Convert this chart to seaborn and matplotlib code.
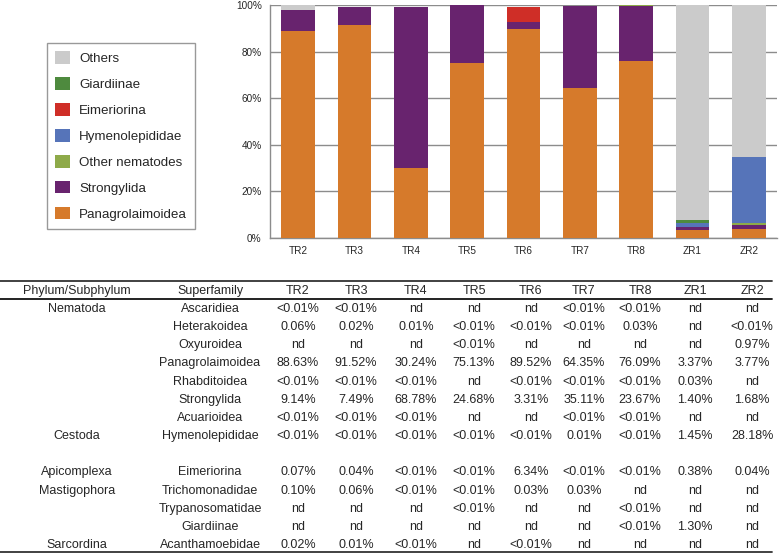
"""
Stacked composition bars for the TR/ZR samples plus the superfamily table beneath.
Writes out.png (783x555).
"""

import matplotlib

matplotlib.use("Agg")
import matplotlib.pyplot as plt
import numpy as np
import pandas as pd
import seaborn as sns
from matplotlib.lines import Line2D
from matplotlib.patches import Patch

SAMPLES = ["TR2", "TR3", "TR4", "TR5", "TR6", "TR7", "TR8", "ZR1", "ZR2"]

# stacked from the bottom up (values in %)
PANAGROLAIMOIDEA = [88.63, 91.52, 30.24, 75.13, 89.52, 64.35, 76.09, 3.37, 3.77]
STRONGYLIDA = [9.14, 7.49, 68.78, 24.68, 3.31, 35.11, 23.67, 1.40, 1.68]
OTHER_NEMATODES = [0.06, 0.02, 0.01, 0.0, 0.0, 0.0, 0.03, 0.03, 0.97]
HYMENOLEPIDIDAE = [0.0, 0.0, 0.0, 0.0, 0.0, 0.01, 0.0, 1.45, 28.18]
EIMERIORINA = [0.07, 0.04, 0.0, 0.0, 6.34, 0.0, 0.0, 0.38, 0.04]
GIARDIINAE = [0.0, 0.0, 0.0, 0.0, 0.0, 0.0, 0.0, 1.30, 0.0]
OTHERS = [1.9, 0.0, 0.0, 0.0, 0.0, 0.0, 0.0, 92.1, 65.4]

SERIES = [
    ("Panagrolaimoidea", PANAGROLAIMOIDEA, "#d67a2b"),
    ("Strongylida", STRONGYLIDA, "#68236e"),
    ("Other nematodes", OTHER_NEMATODES, "#8eaa49"),
    ("Hymenolepididae", HYMENOLEPIDIDAE, "#5674b9"),
    ("Eimeriorina", EIMERIORINA, "#cf2e27"),
    ("Giardiinae", GIARDIINAE, "#4e8a3e"),
    ("Others", OTHERS, "#cbcbcb"),
]

TABLE_HEADER = ["Phylum/Subphylum", "Superfamily"] + SAMPLES
TABLE_ROWS = [
    ["Nematoda", "Ascaridiea", "<0.01%", "<0.01%", "nd", "nd", "nd", "<0.01%", "<0.01%", "nd", "nd"],
    ["", "Heterakoidea", "0.06%", "0.02%", "0.01%", "<0.01%", "<0.01%", "<0.01%", "0.03%", "nd", "<0.01%"],
    ["", "Oxyuroidea", "nd", "nd", "nd", "<0.01%", "nd", "nd", "nd", "nd", "0.97%"],
    ["", "Panagrolaimoidea", "88.63%", "91.52%", "30.24%", "75.13%", "89.52%", "64.35%", "76.09%", "3.37%", "3.77%"],
    ["", "Rhabditoidea", "<0.01%", "<0.01%", "<0.01%", "nd", "<0.01%", "<0.01%", "<0.01%", "0.03%", "nd"],
    ["", "Strongylida", "9.14%", "7.49%", "68.78%", "24.68%", "3.31%", "35.11%", "23.67%", "1.40%", "1.68%"],
    ["", "Acuarioidea", "<0.01%", "<0.01%", "<0.01%", "nd", "nd", "<0.01%", "<0.01%", "nd", "nd"],
    ["Cestoda", "Hymenolepididae", "<0.01%", "<0.01%", "<0.01%", "<0.01%", "<0.01%", "0.01%", "<0.01%", "1.45%", "28.18%"],
    [""] * 11,
    ["Apicomplexa", "Eimeriorina", "0.07%", "0.04%", "<0.01%", "<0.01%", "6.34%", "<0.01%", "<0.01%", "0.38%", "0.04%"],
    ["Mastigophora", "Trichomonadidae", "0.10%", "0.06%", "<0.01%", "<0.01%", "0.03%", "0.03%", "nd", "nd", "nd"],
    ["", "Trypanosomatidae", "nd", "nd", "nd", "<0.01%", "nd", "nd", "<0.01%", "nd", "nd"],
    ["", "Giardiinae", "nd", "nd", "nd", "nd", "nd", "nd", "<0.01%", "1.30%", "nd"],
    ["Sarcordina", "Acanthamoebidae", "0.02%", "0.01%", "<0.01%", "nd", "<0.01%", "nd", "nd", "nd", "nd"],
]

W, H = 783, 555
COL_X = [77, 210, 298, 356, 416, 474, 531, 584, 640, 695, 752]


def draw_bars(fig):
    ax = fig.add_axes([270 / W, 1 - 238 / H, (777 - 270) / W, (238 - 5) / H])
    df = pd.DataFrame({name: vals for name, vals, _ in SERIES}, index=SAMPLES)
    cum = df.cumsum(axis=1)

    # draw the tallest cumulative layer first so lower segments sit on top
    for name, _, color in reversed(SERIES):
        sns.barplot(x=SAMPLES, y=cum[name].values, color=color, width=0.6,
                    saturation=1, errorbar=None, ax=ax, zorder=3,
                    linewidth=0, edgecolor="none")

    ax.set_ylim(0, 100)
    ax.set_xlim(-0.5, len(SAMPLES) - 0.5)
    ax.set_yticks(np.arange(0, 101, 20))
    ax.set_yticklabels([f"{v}%" for v in range(0, 101, 20)])
    ax.yaxis.grid(True, color="#8c8c8c", linewidth=1.0, zorder=0)
    ax.set_axisbelow(True)
    for side in ("top", "right"):
        ax.spines[side].set_visible(False)
    for side in ("left", "bottom"):
        ax.spines[side].set_color("#8c8c8c")
        ax.spines[side].set_linewidth(1.0)

    ax.set_xticks(np.arange(-0.5, len(SAMPLES)), minor=True)
    ax.tick_params(axis="x", which="major", length=0, pad=6, labelsize=7.2)
    ax.tick_params(axis="x", which="minor", length=3, color="#8c8c8c", direction="out")
    ax.tick_params(axis="y", length=3, color="#8c8c8c", pad=3, labelsize=7.2)
    ax.set_xlabel("")
    ax.set_ylabel("")

    handles = [Patch(facecolor=c, edgecolor="none", label=n) for n, _, c in reversed(SERIES)]
    leg = fig.legend(handles=handles, loc="upper left", bbox_to_anchor=(47 / W, 1 - 43 / H),
                     frameon=True, fancybox=False, edgecolor="#808080", fontsize=9.6,
                     handlelength=1.1, handleheight=1.1, labelspacing=0.9,
                     borderpad=0.6, handletextpad=0.7, borderaxespad=0)
    leg.get_frame().set_linewidth(1.0)


def draw_table(fig):
    def fy(px):
        return 1 - px / H

    for y, lw, color in [(281, 1.3, "#333333"), (299, 1.3, "#111111"), (552, 1.3, "#333333")]:
        fig.add_artist(Line2D([0, 772 / W], [fy(y), fy(y)], color=color, linewidth=lw))

    for x, label in zip(COL_X, TABLE_HEADER):
        fig.text(x / W, fy(291), label, ha="center", va="center", fontsize=9)

    step = (545 - 309) / (len(TABLE_ROWS) - 1)
    for i, row in enumerate(TABLE_ROWS):
        y = 309 + i * step
        for x, cell in zip(COL_X, row):
            if cell:
                fig.text(x / W, fy(y), cell, ha="center", va="center", fontsize=9)


def main() -> None:
    sns.set_style("white")
    plt.rcParams["font.family"] = ["Liberation Sans", "DejaVu Sans"]

    fig = plt.figure(figsize=(W / 100, H / 100), dpi=100)
    draw_bars(fig)
    draw_table(fig)
    fig.savefig("out.png", dpi=100)


if __name__ == "__main__":
    main()
